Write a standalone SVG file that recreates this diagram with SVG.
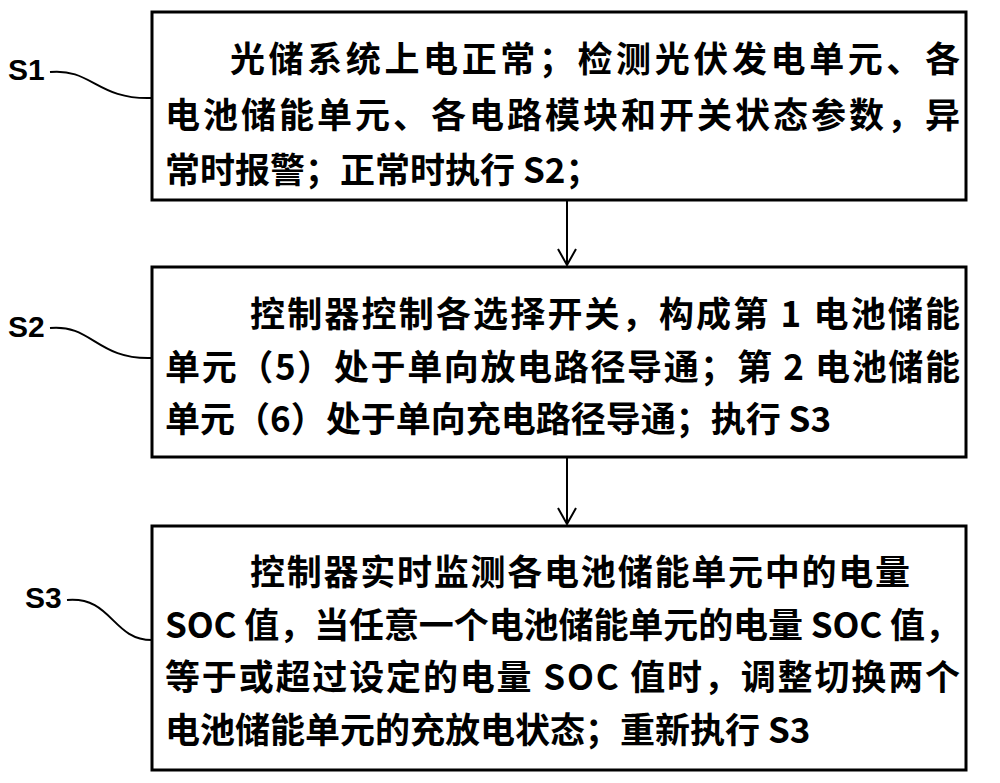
<svg xmlns="http://www.w3.org/2000/svg" width="1000" height="783" viewBox="0 0 1000 783">
<style>
.b{fill:#fff;stroke:#000;stroke-width:3}
.t{font-family:"Noto Sans CJK SC","Liberation Sans",sans-serif;font-size:35px;font-weight:bold;fill:#000}
.l{font-family:"Liberation Sans",sans-serif;font-size:30px;font-weight:bold;fill:#000}
.c{fill:none;stroke:#000;stroke-width:2}
</style>
<defs><marker id="a" markerWidth="20" markerHeight="20" refX="18" refY="10" orient="auto" markerUnits="userSpaceOnUse"><path d="M2,1 L18,10 L2,19" fill="none" stroke="#000" stroke-width="2"/></marker></defs>
<rect width="1000" height="783" fill="#fff"/>
<g id="connectors">
<line class="c" x1="567" y1="201" x2="567" y2="265" marker-end="url(#a)"/>
<line class="c" x1="567" y1="458" x2="567" y2="524" marker-end="url(#a)"/>
<path class="c" d="M50,72 C92,68 97,100 152,98"/>
<path class="c" d="M50,328 C92,324 97,360 152,358"/>
<path class="c" d="M67,600 C112,596 112,640 152,640"/>
</g>
<g id="S1">
<rect class="b" x="152" y="12" width="814" height="188"/>
<text class="l" x="8" y="80">S1</text>
<text class="t" x="230" y="72" textLength="730">光储系统上电正常；检测光伏发电单元、各</text>
<text class="t" x="165" y="128" textLength="795">电池储能单元、各电路模块和开关状态参数，异</text>
<text class="t" x="165" y="183">常时报警；正常时执行 S2；</text>
</g>
<g id="S2">
<rect class="b" x="152" y="267" width="814" height="190"/>
<text class="l" x="8" y="337">S2</text>
<text class="t" x="250" y="327" textLength="710">控制器控制各选择开关，构成第 1 电池储能</text>
<text class="t" x="165" y="380" textLength="795">单元（5）处于单向放电路径导通；第 2 电池储能</text>
<text class="t" x="165" y="432">单元（6）处于单向充电路径导通；执行 S3</text>
</g>
<g id="S3">
<rect class="b" x="152" y="526" width="814" height="244"/>
<text class="l" x="25" y="608">S3</text>
<text class="t" x="250" y="585" textLength="660">控制器实时监测各电池储能单元中的电量</text>
<text class="t" x="165" y="638" textLength="795">SOC 值，当任意一个电池储能单元的电量 SOC 值，</text>
<text class="t" x="165" y="690" textLength="795">等于或超过设定的电量 SOC 值时，调整切换两个</text>
<text class="t" x="165" y="743">电池储能单元的充放电状态；重新执行 S3</text>
</g>
</svg>
